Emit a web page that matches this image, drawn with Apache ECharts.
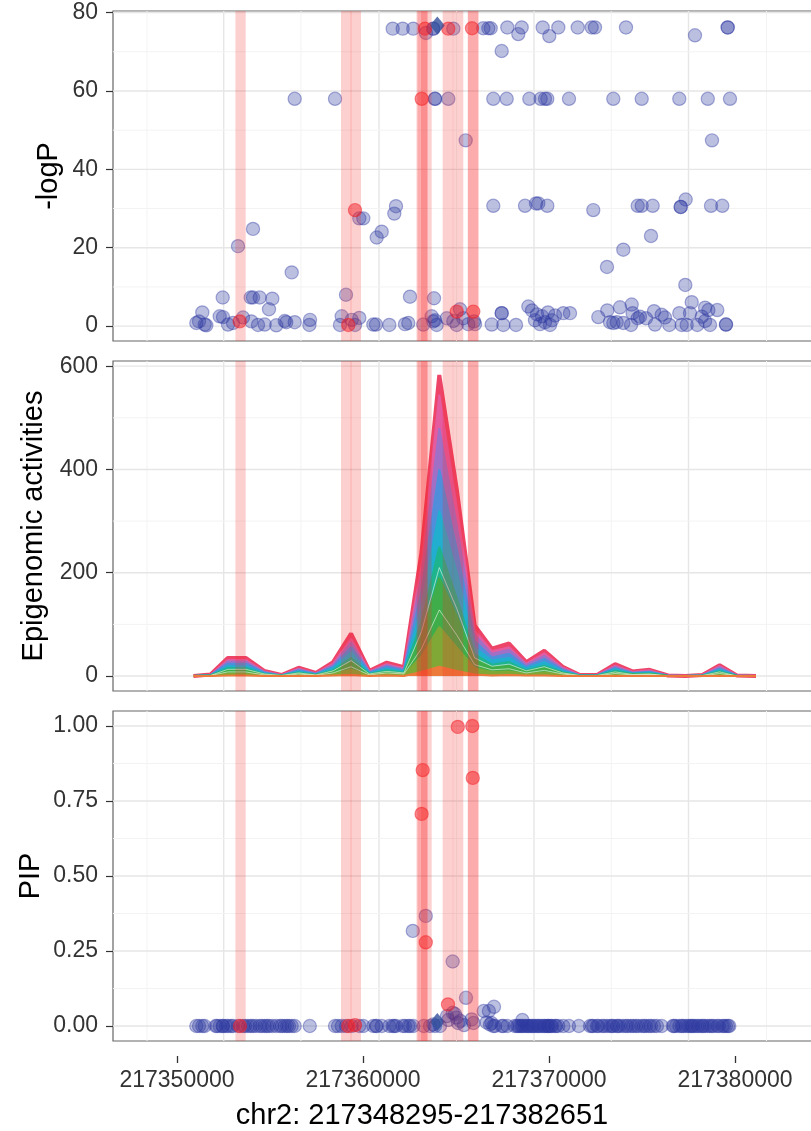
<!DOCTYPE html>
<html><head><meta charset="utf-8">
<script src="https://cdn.jsdelivr.net/npm/echarts@6/dist/echarts.min.js"></script>
<style>html,body{margin:0;padding:0;background:#fff}#c{width:811px;height:1131px}</style>
</head><body><div id="c"></div>
<script>
// ---------- axes / ticks ----------
const xTicks = [217350000, 217360000, 217370000, 217380000];
const xGridMajor = [217352511, 217360860, 217369193, 217377500];
const xGridMinor = [217348387, 217356661, 217365027, 217373349, 217381693];
const logpTicks = [0, 20, 40, 60, 80];
const logpMinor = [10, 30, 50, 70];
const epiTicks = [0, 200, 400, 600];
const epiMinor = [100, 300, 500];
const pipTicks = [0, 0.25, 0.5, 0.75, 1];
const pipMinor = [0.125, 0.375, 0.625, 0.875];

// ---------- highlighted regions [start, 0, end] ----------
const bands = [
  [217353140, 0, 217353694],
  [217358817, 0, 217359382], [217359328, 0, 217359892],
  [217362876, 0, 217363441], [217362930, 0, 217363495], [217363118, 0, 217363693],
  [217364285, 0, 217364850], [217364828, 0, 217365392],
  [217365629, 0, 217366199], [217365645, 0, 217366210]
];

// ---------- -logP ----------
const logpBlue = [
[217351038,0.8],[217351183,1.2],[217351360,3.5],[217351489,0.4],[217351575,0.2],[217352296,2.5],[217352473,2.3],
[217352457,7.3],[217352742,0.4],[217353011,0.8],[217353280,20.4],[217353548,2.2],[217353962,7.3],[217354086,7.3],
[217354086,24.8],[217353995,1.2],[217354355,0.3],[217354446,7.3],[217354715,0.4],[217354946,4.3],[217355124,7.0],
[217355339,0.2],[217355790,1.3],[217355876,1.0],[217356167,13.7],[217356328,58.0],[217356328,1.0],[217357118,0.3],
[217357151,1.6],[217358495,58],[217358763,0.3],[217358855,2.5],[217359086,8.0],[217359393,1.6],[217359570,0.3],
[217359801,2.1],[217359801,27.5],[217360016,27.5],[217360554,0.4],[217360699,0.4],[217360737,22.6],[217361006,24.1],
[217361414,0.3],[217361597,75.9],[217361683,28.7],[217361774,30.6],[217362134,75.9],[217362258,0.5],[217362435,0.8],
[217362527,7.5],[217362704,75.9],[217363242,0.4],[217363387,74.8],[217363693,2.5],[217363779,75.9],[217363779,75.9],
[217363779,1.2],[217363817,7.1],[217363871,58],[217363871,58],[217363871,1.5],[217363962,0.3],[217364500,2],
[217364586,58.0],[217364855,75.9],[217364855,1.3],[217365038,0.3],[217365215,4.3],[217365392,2],[217365521,47.4],
[217365661,0.5],[217365968,1.2],[217366022,0.5],[217366468,76],[217366737,76],[217366866,76],[217366920,0.4],
[217367005,58],[217367005,30.7],[217367457,70.2],[217367457,3.3],[217367457,3.3],[217367543,0.3],[217367758,76.2],
[217367726,58],[217368226,0.3],[217368349,74.5],[217368532,76.2],[217368710,30.7],[217368889,5],[217368942,58],
[217369086,4],[217369247,1.5],[217369301,31.3],[217369355,3],[217369425,31.3],[217369516,0.5],[217369554,58],
[217369624,2.5],[217369661,76.2],[217369785,58],[217369785,1],[217369909,30.7],[217369909,58],[217369946,3.5],
[217370016,74],[217370054,0.3],[217370161,1.5],[217370323,2.7],[217370500,76.2],[217370769,3.3],[217371075,58],
[217371129,3.3],[217371543,76.2],[217372295,76.2],[217372381,29.6],[217372473,76.2],[217372650,2.3],[217373118,15.1],
[217373134,4],[217373280,1],[217373457,58],[217373457,0.8],[217373640,1],[217373817,4.8],[217373995,19.5],
[217373995,0.8],[217374140,76.2],[217374446,5.5],[217374409,0.3],[217374495,3.3],[217374769,30.7],[217374769,2],
[217374984,58],[217374984,30.7],[217374892,2.4],[217375215,2],[217375484,23],[217375575,30.7],[217375645,3.8],
[217375699,0.4],[217376059,2.9],[217376236,2.2],[217376468,0.3],[217377005,58],[217377005,3.3],[217377081,30.4],
[217377081,30.4],[217377134,0.3],[217377349,32.3],[217377328,10.5],[217377403,0.3],[217377581,3.3],[217377672,6.1],
[217377849,74.2],[217377973,0.3],[217378215,2.4],[217378392,4.7],[217378392,1.3],[217378538,58],[217378570,4.1],
[217378656,0.3],[217378710,30.7],[217378763,47.4],[217379048,4.1],[217379317,30.7],[217379516,0.4],[217379516,0.4],
[217379608,76.2],[217379608,76.2],[217379731,58]
];
const logpRed = [
[217353371,1.2],[217359210,0.3],[217359570,29.6],[217363156,58.0],[217363333,75.9],
[217364586,75.9],[217365038,3.7],[217365860,76],[217365930,3.7]
];
const leadLogp = [[217363995, 76.7]];

// ---------- epigenomic activities (cumulative layers, top to bottom) ----------
const epiPos = [217350882,217351806,217352731,217353699,217354688,217355613,217356538,217357468,217358392,
  217359360,217360344,217361274,217362199,217363145,217364102,217365048,217366005,217366930,217367855,217368779,
  217369747,217370736,217371661,217372586,217373554,217374484,217375409,217376398,217377323,217378247,217379172,
  217380097,217381129];
const epiL1 = [0,3,35,35,10,2,16,6,27,82,10,26,17,240,583,360,98,53,63,27,49,18,2,2,23,9,12,1,0,2,21,1,0];
const epiL2 = [0,2,31,31,9,2,14,5,24,72,9,23,15,215,545,325,88,48,56,24,44,16,2,2,20,8,11,1,0,2,19,1,0];
const epiL3 = [0,2,28,28,8,1,13,5,21,65,8,21,13,195,480,290,80,43,51,22,39,14,1,1,18,7,9,1,0,1,17,1,0];
const epiL4 = [0,2,24,24,7,1,11,4,18,56,7,18,11,165,400,245,68,36,43,18,33,12,1,1,15,6,8,1,0,1,14,1,0];
const epiL5 = [0,1,19,19,5,1,9,3,15,46,5,14,9,135,320,200,55,30,35,15,27,10,1,1,13,5,7,0,0,1,12,0,0];
const epiL6 = [0,1,15,15,4,1,7,2,11,35,4,11,7,105,250,150,42,22,27,11,20,7,1,1,10,4,5,0,0,1,9,0,0];
const epiL7 = [0,1,11,11,3,0,5,2,9,27,3,8,5,80,190,115,32,17,20,9,16,6,0,0,7,3,4,0,0,0,7,0,0];
const epiL8 = [0,0,5,5,2,0,2,1,4,12,2,4,3,38,95,55,15,8,9,4,7,3,0,0,3,1,2,0,0,0,3,0,0];
const epiL9 = [0,0,1,1,0,0,0,0,1,2,0,1,0,8,18,10,3,1,2,1,1,0,0,0,0,0,0,0,0,0,0,0,0];
const epiW1 = [0,1,13,13,4,1,6,2,10,30,4,9,6,86,210,130,35,19,23,10,18,6,1,1,8,3,4,0,0,1,8,0,0];
const epiW2 = [0,1,8,8,2,0,4,1,6,18,2,6,4,53,128,79,22,12,14,6,11,4,0,0,5,2,3,0,0,0,5,0,0];
const epiColors = ['#ee4468','#e45c9f','#a070c6','#4f8edb','#22aecf','#1db48e','#3fae4a','#7fa836','#ec7a3a'];

// ---------- PIP ----------
const pipBlue = [
[217351038,0],[217351183,0],[217351360,0],[217351489,0],[217352081,0],[217352151,0],[217352296,0],[217352457,0],[217352473,0],
[217352634,0],[217352742,0],[217352903,0],[217353011,0],[217353280,0],[217353548,0],[217353656,0],[217353817,0],[217353962,0],
[217354086,0],[217354247,0],[217354446,0],[217354570,0],[217354715,0],[217354839,0],[217354946,0],[217355124,0],[217355339,0],
[217355538,0],[217355645,0],[217355790,0],[217355914,0],[217356021,0],
[217356167,0],[217356328,0],[217357140,0],[217358495,0],[217358656,0],[217358855,0],[217359086,0],[217359392,0],
[217359801,0],[217360016,0],[217360554,0],[217360699,0],[217360737,0],[217361005,0],[217361414,0],[217361597,0],
[217361683,0],[217361774,0],[217362134,0],[217362258,0],[217362435,0],[217362527,0],[217362704,0],[217363269,0],
[217363602,0],[217363780,0.005],[217363871,0],[217364140,0],[217366645,0.012],[217366828,0.005],[217367005,0],
[217367097,0],[217367457,0],[217367543,0],[217367758,0],[217368161,0],[217368279,0],[217368349,0],[217368441,0],[217368532,0],
[217368602,0],[217368710,0],[217368817,0],[217368887,0],[217368978,0],[217369086,0],[217369140,0],[217369247,0],[217369355,0],
[217369425,0],[217369516,0],[217369624,0],[217369731,0],[217369785,0],[217369908,0],[217369946,0],[217370016,0],[217370107,0],
[217370161,0],[217370322,0],[217370376,0],[217370500,0],[217370769,0],[217371075,0],[217371602,0],
[217372204,0],[217372312,0],[217372382,0],[217372581,0],[217372650,0],[217372849,0],[217372957,0],[217373118,0],[217373279,0],
[217373387,0],[217373457,0],[217373640,0],[217373710,0],[217373817,0],[217373994,0],[217374140,0],[217374247,0],[217374408,0],
[217374532,0],[217374677,0],[217374801,0],[217374984,0],[217375107,0],[217375215,0],[217375376,0],[217375484,0],[217375645,0],
[217375806,0],[217376059,0],[217376661,0],[217376720,0],[217376828,0],[217377005,0],[217377134,0],[217377204,0],[217377349,0],
[217377473,0],[217377580,0],[217377672,0],[217377742,0],[217377849,0],[217377973,0],[217378065,0],[217378210,0],[217378280,0],
[217378387,0],[217378532,0],[217378656,0],[217378763,0],[217378871,0],[217379048,0],[217379140,0],[217379317,0],[217379409,0],
[217379516,0],[217379624,0],[217379693,0],
[217362677,0.317],[217363376,0.367],[217364822,0.215],[217365537,0.094],[217366489,0.05],[217366769,0.05],
[217367043,0.064],[217364516,0.033],[217364828,0.044],[217365027,0.028],[217365231,0.017],[217365430,0.003],
[217365838,0.022],[217365940,0.01],[217366908,0.01],[217368570,0.02],[217364586,0.02],[217364946,0.04],[217365107,0.01]
];
const pipRed = [
[217353387,0],[217359210,0],[217359570,0.003],[217363150,0.707],[217363210,0.853],[217363376,0.279],
[217364570,0.072],[217365097,0.997],[217365876,1.0],[217365903,0.827]
];
const leadPip = [[217363995, 0.013]];

// ---------- layout constants ----------
const XMIN = 217346559, XMAX = 217384355;
const FONT = 'Liberation Sans';

const blueStyle = {color:'rgba(45,55,160,0.4)', borderColor:'rgba(45,55,160,0.5)', borderWidth:1.2};
const redStyle = {color:'rgba(240,20,30,0.58)', borderColor:'rgba(240,20,30,0.6)', borderWidth:1.2};

function gridLines(idx, yMaj, yMin) {
  const data = [];
  xGridMinor.forEach(v => data.push([v, 0, 0]));
  xGridMajor.forEach(v => data.push([v, 0, 1]));
  yMin.forEach(v => data.push([v, 1, 0]));
  yMaj.forEach(v => data.push([v, 1, 1]));
  return {
    type:'custom', xAxisIndex:idx, yAxisIndex:idx, z:1, silent:true, animation:false,
    data: data,
    renderItem: function(params, api) {
      const v = api.value(0), o = api.value(1), m = api.value(2);
      const cs = params.coordSys;
      let shape;
      if (o === 0) {
        const x = api.coord([v, 0])[0];
        shape = {x1:x, y1:cs.y, x2:x, y2:cs.y + cs.height};
      } else {
        const y = api.coord([XMIN, v])[1];
        shape = {x1:cs.x, y1:y, x2:cs.x + cs.width, y2:y};
      }
      return {type:'line', shape:shape, style:{stroke: m ? '#e6e6e6' : '#f3f3f3', lineWidth: m ? 1.4 : 1}};
    }
  };
}
function bandSeries(idx) {
  return {
    type:'custom', xAxisIndex:idx, yAxisIndex:idx, z:20, silent:true, animation:false,
    data: bands,
    renderItem: function(params, api) {
      const cs = params.coordSys;
      const x0 = api.coord([api.value(0), 0])[0];
      const x1 = api.coord([api.value(2), 0])[0];
      return {type:'rect', shape:{x:x0, y:cs.y, width:x1 - x0, height:cs.height},
              style:{fill:'rgba(245,40,40,0.22)'}};
    }
  };
}
function scatter(idx, data, style, z) {
  return {type:'scatter', xAxisIndex:idx, yAxisIndex:idx, data:data, symbolSize:13.2,
          itemStyle:style, z:z, silent:true, animation:false};
}
function lead(idx, data) {
  return {type:'scatter', xAxisIndex:idx, yAxisIndex:idx, data:data, symbol:'diamond',
          symbolSize:[15,18], itemStyle:{color:'#33509c'}, z:6, silent:true, animation:false};
}
function epiLayer(vals, color, lw, area) {
  const s = {type:'line', xAxisIndex:1, yAxisIndex:1, data: epiPos.map((p, i) => [p, vals[i]]),
    showSymbol:false, symbol:'none', lineStyle:{color:color, width:lw}, z:2, silent:true, animation:false};
  if (area) s.areaStyle = {color:color, opacity:1};
  return s;
}

const labelCommon = {fontSize:23, color:'#333', fontFamily:FONT};
function yAxis(idx, min, max, ticks, fmt) {
  return {type:'value', gridIndex:idx, min:min, max:max,
    axisLine:{show:false, onZero:false}, splitLine:{show:false},
    axisTick:{show:true, length:7, lineStyle:{color:'#333', width:1.2}, customValues:ticks},
    axisLabel:Object.assign({margin:15, customValues:ticks, formatter:fmt}, labelCommon)};
}
const gridBase = {left:113, right:-5, height:330, show:true, borderColor:'#666', borderWidth:1.2, outerBoundsMode:'none', containLabel:false};

const option = {
  animation:false,
  textStyle:{fontFamily:FONT},
  grid:[
    Object.assign({top:11}, gridBase),
    Object.assign({top:361}, gridBase),
    Object.assign({top:711}, gridBase),
    {left:113, right:-5, top:1055, height:1, show:false, outerBoundsMode:'none', containLabel:false}
  ],
  xAxis:[
    {type:'value', gridIndex:0, min:XMIN, max:XMAX, show:false},
    {type:'value', gridIndex:1, min:XMIN, max:XMAX, show:false},
    {type:'value', gridIndex:2, min:XMIN, max:XMAX, show:false},
    {type:'value', gridIndex:3, min:XMIN, max:XMAX, position:'bottom',
     axisLine:{show:false, onZero:false}, splitLine:{show:false},
     axisTick:{show:true, length:7, lineStyle:{color:'#333', width:1.3}, customValues:xTicks},
     axisLabel:Object.assign({margin:13, customValues:xTicks, formatter: v => String(v)}, labelCommon)}
  ],
  yAxis:[
    yAxis(0, -3.8, 80.4, logpTicks, v => String(v)),
    yAxis(1, -29, 610, epiTicks, v => String(v)),
    yAxis(2, -0.05, 1.05, pipTicks, v => v.toFixed(2)),
    {type:'value', gridIndex:3, min:0, max:1, show:false}
  ],
  graphic:[
    {type:'text', x:49, y:176, rotation:Math.PI/2, style:{text:'-logP', fontSize:29, fontFamily:FONT, fill:'#000', textAlign:'center', textVerticalAlign:'middle'}},
    {type:'text', x:34, y:526, rotation:Math.PI/2, style:{text:'Epigenomic activities', fontSize:29, fontFamily:FONT, fill:'#000', textAlign:'center', textVerticalAlign:'middle'}},
    {type:'text', x:31, y:876, rotation:Math.PI/2, style:{text:'PIP', fontSize:29, fontFamily:FONT, fill:'#000', textAlign:'center', textVerticalAlign:'middle'}},
    {type:'text', x:422, y:1116, style:{text:'chr2: 217348295-217382651', fontSize:29, fontFamily:FONT, fill:'#000', textAlign:'center', textVerticalAlign:'middle'}}
  ],
  series:[
    gridLines(0, logpTicks, logpMinor),
    scatter(0, logpBlue, blueStyle, 3),
    scatter(0, logpRed, redStyle, 4),
    lead(0, leadLogp),
    bandSeries(0),

    gridLines(1, epiTicks, epiMinor),
    epiLayer(epiL1, epiColors[0], 4, true),
    epiLayer(epiL2, epiColors[1], 2, true),
    epiLayer(epiL3, epiColors[2], 2, true),
    epiLayer(epiL4, epiColors[3], 2, true),
    epiLayer(epiL5, epiColors[4], 2, true),
    epiLayer(epiL6, epiColors[5], 2, true),
    epiLayer(epiL7, epiColors[6], 2, true),
    epiLayer(epiL8, epiColors[7], 2, true),
    epiLayer(epiW1, 'rgba(255,255,255,0.55)', 1, false),
    epiLayer(epiW2, 'rgba(255,255,255,0.55)', 1, false),
    epiLayer(epiL9, epiColors[8], 2, true),
    bandSeries(1),

    gridLines(2, pipTicks, pipMinor),
    scatter(2, pipBlue, blueStyle, 3),
    scatter(2, pipRed, redStyle, 4),
    lead(2, leadPip),
    bandSeries(2)
  ]
};
const chart = echarts.init(document.getElementById('c'), null, {renderer:'canvas'});
chart.setOption(option);
</script></body></html>
